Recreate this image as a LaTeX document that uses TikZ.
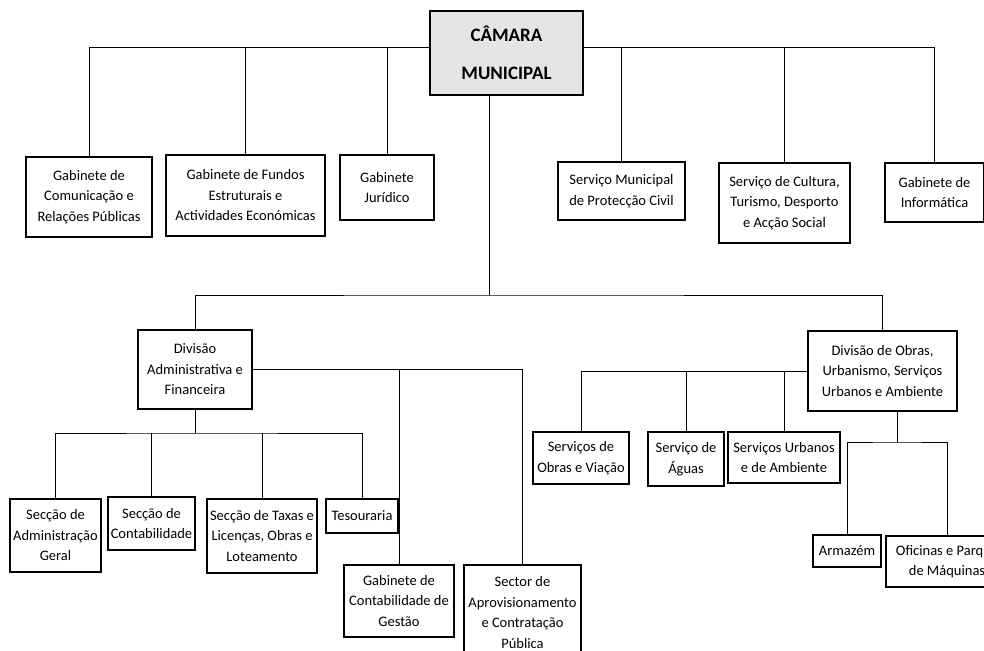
\documentclass[tikz,border=0pt]{standalone}
\usepackage{fontspec}
\setmainfont{Carlito}

\begin{document}
\begin{tikzpicture}[x=1pt,y=-1pt,
  box/.style={draw,line width=1.1pt,align=center,inner sep=0pt,
    font=\fontsize{14.5}{20.5}\selectfont},
  topbox/.style={box,fill=black!10,font=\fontsize{19}{38}\selectfont\bfseries},
  link/.style={line width=1pt}]

\useasboundingbox (0,0) rectangle (984,650);

% Top
\node[topbox,minimum width=153,minimum height=84] (camara) at (506.5,53) {CÂMARA\\MUNICIPAL};

% First row
\node[box,minimum width=126,minimum height=80] (gcom) at (89,197) {Gabinete de\\Comunicação e\\Relações Públicas};
\node[box,minimum width=159,minimum height=81] (gfundos) at (245.5,195.5) {Gabinete de Fundos\\Estruturais e\\Actividades Económicas};
\node[box,minimum width=94,minimum height=65] (gjur) at (387,187.5) {Gabinete\\Jurídico};
\node[box,minimum width=127,minimum height=58] (smpc) at (621.5,191) {Serviço Municipal\\de Protecção Civil};
\node[box,minimum width=131,minimum height=80] (scult) at (784.5,203) {Serviço de Cultura,\\Turismo, Desporto\\e Acção Social};
\node[box,minimum width=99,minimum height=59] (ginf) at (934.5,192.5) {Gabinete de\\Informática};

\coordinate (topbus) at (0,48);
\draw[link] (gcom.north) |- (camara.west |- topbus);
\draw[link] (gfundos.north) -- (gfundos.north |- topbus);
\draw[link] (gjur.north) -- (gjur.north |- topbus);
\draw[link] (ginf.north) |- (camara.east |- topbus);
\draw[link] (smpc.north) -- (smpc.north |- topbus);
\draw[link] (scult.north) -- (scult.north |- topbus);

% Divisions
\node[box,minimum width=114,minimum height=79] (divadm) at (195,369.5) {Divisão\\Administrativa e\\Financeira};
\node[box,minimum width=149,minimum height=80] (divobr) at (882.5,371) {Divisão de Obras,\\Urbanismo, Serviços\\Urbanos e Ambiente};

\coordinate (midbus) at (489,295);
\draw[link] (camara.south -| midbus) -- (midbus);
\draw[link] (divadm.north) |- (midbus) -| (divobr.north);

% Administrative division
\node[box,minimum width=91,minimum height=73] (sadm) at (55.5,535.5) {Secção de\\Administração\\Geral};
\node[box,minimum width=87,minimum height=53] (scont) at (151.5,523.5) {Secção de\\Contabilidade};
\node[box,minimum width=110,minimum height=74] (staxas) at (262,536) {Secção de Taxas e\\Licenças, Obras e\\Loteamento};
\node[box,minimum width=72,minimum height=34] (tes) at (362,516) {Tesouraria};
\node[box,minimum width=110,minimum height=72] (gcg) at (399,601) {Gabinete de\\Contabilidade de\\Gestão};
\node[box,minimum width=117,minimum height=95] (sap) at (522.5,612.5) {Sector de\\Aprovisionamento\\e Contratação\\Pública};

\coordinate (admbus) at (195,433);
\draw[link] (divadm.south) -- (admbus);
\draw[link] (sadm.north) |- (admbus) -| (tes.north);
\draw[link] (scont.north) -- (scont.north |- admbus);
\draw[link] (staxas.north) -- (staxas.north |- admbus);
\draw[link] (divadm.east) -| (sap.north);
\draw[link] (gcg.north) -- (gcg.north |- divadm.east);

% Works division
\node[box,minimum width=96,minimum height=52] (sov) at (581,458) {Serviços de\\Obras e Viação};
\node[box,minimum width=76,minimum height=54] (sagua) at (686,459) {Serviço de\\Águas};
\node[box,minimum width=112,minimum height=51] (surb) at (784,457.5) {Serviços Urbanos\\e de Ambiente};

\draw[link] (divobr.west) -| (sov.north);
\draw[link] (sagua.north) -- (sagua.north |- divobr.west);
\draw[link] (surb.north) -- (surb.north |- divobr.west);

\node[box,minimum width=68,minimum height=32] (arm) at (847,551) {Armazém};
\node[box,minimum width=122,minimum height=51] (ofic) at (947,561.5) {Oficinas e Parque\\de Máquinas};

\coordinate (obrbus) at (897,442);
\draw[link] (divobr.south -| obrbus) -- (obrbus);
\draw[link] (arm.north) |- (obrbus) -| (ofic.north);

\end{tikzpicture}
\end{document}
